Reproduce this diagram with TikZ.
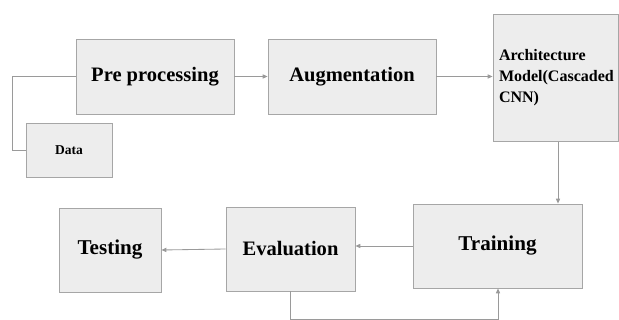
\documentclass[tikz,border=0pt]{standalone}
\usepackage{fontspec}
\setmainfont{Liberation Serif}
\usetikzlibrary{positioning,calc,arrows.meta}

\definecolor{boxfill}{HTML}{EDEDED}
\definecolor{boxline}{HTML}{A6A6A6}
\definecolor{wire}{HTML}{9A9A9A}

\begin{document}
\begin{tikzpicture}[
    x=0.025cm, y=-0.025cm,
    stage/.style={draw=boxline, fill=boxfill, line width=0.6pt, inner sep=0pt, font=\fontsize{14.6}{18}\selectfont\bfseries},
    link/.style={draw=wire, line width=0.6pt, -{Triangle[length=3.5pt,width=3pt]}},
    plain/.style={draw=wire, line width=0.6pt}
]
\useasboundingbox (0,0) rectangle (619,320);

% Stages of the pipeline
\node[stage, minimum width=158*0.025cm, minimum height=75*0.025cm] (pre) at (155,76.5) {Pre processing};
\node[stage, minimum width=86*0.025cm, minimum height=54*0.025cm, font=\fontsize{9.6}{11}\selectfont\bfseries] (data) at (69,150) {Data};
\node[stage, minimum width=168*0.025cm, minimum height=75*0.025cm] (aug) at (352,76.5) {Augmentation};
\node[stage, minimum width=125*0.025cm, minimum height=127*0.025cm, align=left, text width=113*0.025cm, font=\fontsize{11.4}{15}\selectfont\bfseries] (arch) at (555.5,78) {Architecture\\Model(Cascaded\\CNN)};
\node[stage, minimum width=169*0.025cm, minimum height=84*0.025cm, font=\fontsize{15}{18}\selectfont\bfseries] (train) at (497.5,246) {Training};
\node[stage, minimum width=129*0.025cm, minimum height=84*0.025cm] (eval) at (290.5,249) {Evaluation};
\node[stage, minimum width=102*0.025cm, minimum height=84*0.025cm, font=\fontsize{15}{18}\selectfont\bfseries] (test) at (110,250) {Testing};

% Connectors
\draw[plain] (pre.west) -| (12,150) -- (data.west);
\draw[link] (pre) -- (aug);
\draw[link] (aug.east) -- (arch.west |- aug.east);
\draw[link] (arch.south -| 558,0) -- (train.north -| 558,0);
\draw[link] (train.west) -- (eval.east |- train.west);
\draw[link] (eval.west) -- (test.east);
\coordinate (loop) at (290,319);
\draw[link] (eval.south -| loop) -- (loop) -| (train.south -| 498,0);

\end{tikzpicture}
\end{document}
